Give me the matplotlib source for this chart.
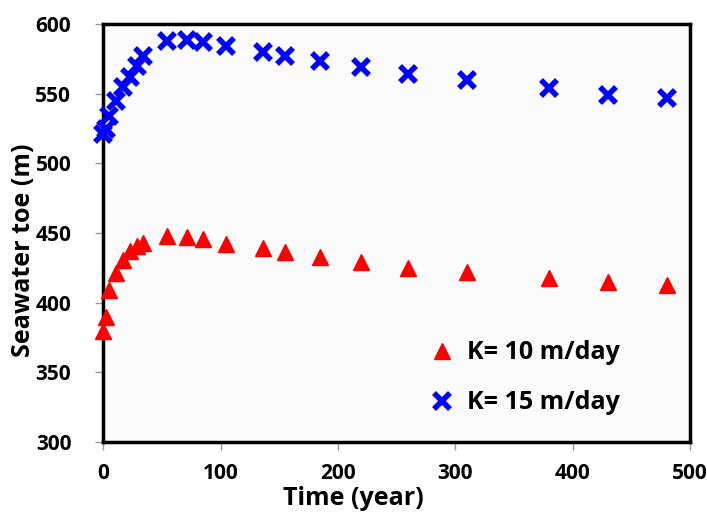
import numpy as np
import matplotlib.pyplot as plt

# Zeiten (Jahre) und Lage des Salzwasserkeils (m)
zeit = [0, 2.5, 5, 11, 17, 23, 29, 34, 54, 71, 85, 105, 136, 155, 185, 220, 260, 310, 380, 430, 480]
k10 = [380, 390, 409, 421, 431, 437, 441, 443, 448, 447, 445.5, 442.5, 439, 436.5, 433, 429, 425, 422, 418, 415, 412.5]
k15 = [521, 525, 534, 545, 555, 562, 570, 577, 588, 588.5, 587, 584, 580, 577, 573.5, 569.5, 564.5, 560, 554, 549.5, 547]
labels = ['K= 10 m/day', 'K= 15 m/day']

plt.rcParams['font.family'] = ['Open Sans', 'DejaVu Sans']

fig = plt.figure(figsize=(7.07, 5.14), dpi=100)
ax = fig.add_axes([0.146, 0.14, 0.83, 0.813])
ax.set_facecolor('#fbfbfb')

ax.plot(zeit, k10, linestyle='none', marker='^', markersize=12, color='#ff0000',
        label=labels[0], clip_on=False, zorder=3)
ax.plot(zeit, k15, linestyle='none', marker='x', markersize=11, markeredgewidth=4,
        color='#0000ff', label=labels[1], clip_on=False, zorder=3)

ax.set_xlim(0, 500)
ax.set_ylim(300, 600)
ax.set_xticks(np.arange(0, 501, 100))
ax.set_yticks(np.arange(300, 601, 50))
for s in ax.spines.values():
    s.set_linewidth(2.5)
    s.set_color('black')
ax.tick_params(direction='out', length=6, width=1, color='#999999', labelsize=15)
ax.tick_params(axis='x', pad=9)
ax.tick_params(axis='y', pad=17)
for t in ax.get_xticklabels() + ax.get_yticklabels():
    t.set_fontweight('bold')

ax.set_xlabel('Time (year)', fontsize=18, fontweight='bold')
ax.xaxis.set_label_coords(0.426, -0.105)
ax.set_ylabel('Seawater toe (m)', fontsize=18, fontweight='bold')
ax.yaxis.set_label_coords(-0.115, 0.46)

ax.legend(loc='center left', bbox_to_anchor=(0.59, 0.265), bbox_transform=fig.transFigure,
          frameon=False, handlelength=1.0, handletextpad=0.5, labelspacing=1.0,
          borderpad=0, prop={'size': 18, 'weight': 'bold'})

fig.savefig('out.png', dpi=100, facecolor='white')
